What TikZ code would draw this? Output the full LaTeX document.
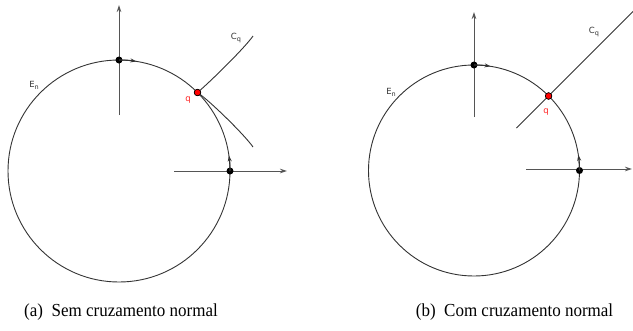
\documentclass[tikz,border=0pt]{standalone}
\usepackage{fontspec}
\setmainfont{Liberation Serif}
\newfontfamily\capfont{Liberation Serif}
\newfontfamily\lblfont{DejaVu Sans}
\usetikzlibrary{arrows.meta}
\definecolor{linegray}{HTML}{333333}
\definecolor{axisgray}{HTML}{555555}
\definecolor{qred}{HTML}{FF2020}
\newcommand{\lblsub}[2]{#1\raisebox{-2.2pt}{\fontsize{6.5}{7}\selectfont #2}}
\tikzset{
  curveline/.style={draw=linegray, line width=0.9pt},
  axisarrow/.style={draw=axisgray, line width=1pt, -{Stealth[length=7pt,width=4.5pt]}},
  smallarrow/.style={draw=linegray, line width=1.1pt, -{Stealth[length=6pt,width=4pt]}},
  blackdot/.style={circle, fill=black, inner sep=0pt, minimum size=7pt},
  reddot/.style={circle, fill=red, draw=black, line width=0.6pt, inner sep=0pt, minimum size=6.5pt},
  lbl/.style={font=\lblfont\fontsize{8.5}{9}\selectfont, text=linegray, inner sep=0pt},
  qlbl/.style={font=\lblfont\fontsize{8.5}{9}\selectfont, text=qred, inner sep=0pt},
  captxt/.style={font=\capfont\fontsize{17}{20}\selectfont, inner sep=0pt, yscale=1.08}
}
\begin{document}
\begin{tikzpicture}[x=1pt,y=-1pt]
\useasboundingbox (0,0) rectangle (633,330);
% ---------- (a) ----------
\coordinate (ca) at (119,171);
\draw[curveline] (ca) circle [radius=111];
\coordinate (aTopLow) at (119,115);
\coordinate (aTopHigh) at (119,5);
\coordinate (aRightLow) at (174,171);
\coordinate (aRightHigh) at (287,171);
\draw[axisarrow] (aTopLow) -- (aTopHigh);
\draw[axisarrow] (aRightLow) -- (aRightHigh);
\node[blackdot] (aTop) at (119,60) {};
\node[blackdot] (aRight) at (230,171) {};
\draw[smallarrow] (aTop.center) arc[start angle=-90, end angle=-81, radius=111];
\draw[smallarrow] (aRight.center) arc[start angle=0, end angle=-8, radius=111];
\node[reddot] (aq) at (197.5,92.5) {};
\coordinate (aUp) at (253,36);
\coordinate (aDown) at (253,147);
\draw[curveline] (aq.center) .. controls (209.5,82.4) and (244.4,48.3) .. (aUp);
\draw[curveline] (aq.center) .. controls (210,101) and (244.4,134.7) .. (aDown);
\node[reddot] at (aq) {};
\node[qlbl] (aqlbl) at (188,100) {q};
\node[lbl] (aCq) at (236,38) {\lblsub{C}{q}};
\node[lbl] (aEn) at (34,85) {\lblsub{E}{n}};
\node[captxt] (capa) at (121,312) {(a)\ \ Sem cruzamento normal};
% ---------- (b) ----------
\coordinate (cb) at (474,170.5);
\draw[curveline] (cb) circle [radius=105.5];
\coordinate (bTopLow) at (474,117);
\coordinate (bTopHigh) at (474,12);
\coordinate (bRightLow) at (526,169);
\coordinate (bRightHigh) at (632,169);
\draw[axisarrow] (bTopLow) -- (bTopHigh);
\draw[axisarrow] (bRightLow) -- (bRightHigh);
\node[blackdot] (bTop) at (474,65) {};
\node[blackdot] (bRight) at (579.5,170.5) {};
\draw[smallarrow] (bTop.center) arc[start angle=-90, end angle=-81, radius=105.5];
\draw[smallarrow] (bRight.center) arc[start angle=0, end angle=-8.5, radius=105.5];
\node[reddot] (bq) at (548.6,96) {};
\coordinate (bLow) at (516.5,128);
\coordinate (bHigh) at (633,11.5);
\draw[curveline] (bLow) -- (bHigh);
\node[reddot] at (bq) {};
\node[qlbl] (bqlbl) at (546,112) {q};
\node[lbl] (bCq) at (594,32) {\lblsub{C}{q}};
\node[lbl] (bEn) at (391,92) {\lblsub{E}{n}};
\node[captxt] (capb) at (514.5,312) {(b)\ \ Com cruzamento normal};
\end{tikzpicture}
\end{document}
